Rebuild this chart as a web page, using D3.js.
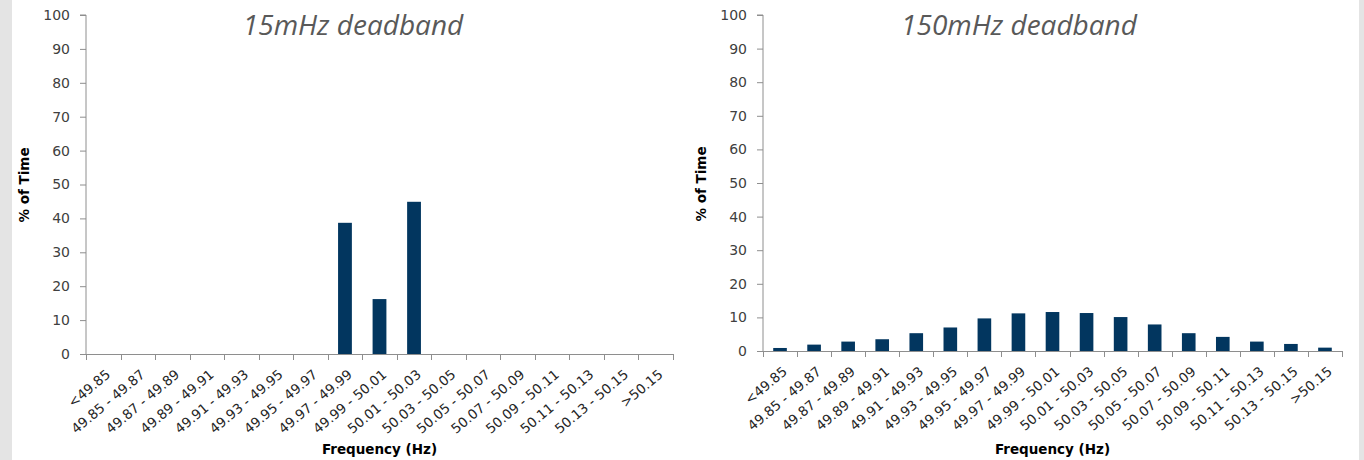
<!DOCTYPE html>
<html>
<head>
<meta charset="utf-8">
<script src="https://cdn.jsdelivr.net/npm/d3@7"></script>
<style>
  html, body { margin: 0; padding: 0; background: #ffffff; }
  svg { display: block; }
</style>
</head>
<body>
<svg id="chart" width="1364" height="460"></svg>
<script>
// Frequency bands (Hz)
const categories = [
  "<49.85", "49.85 - 49.87", "49.87 - 49.89", "49.89 - 49.91", "49.91 - 49.93",
  "49.93 - 49.95", "49.95 - 49.97", "49.97 - 49.99", "49.99 - 50.01", "50.01 - 50.03",
  "50.03 - 50.05", "50.05 - 50.07", "50.07 - 50.09", "50.09 - 50.11", "50.11 - 50.13",
  "50.13 - 50.15", ">50.15"
];

// % of time spent in each band
const deadband15 = [0, 0, 0, 0, 0, 0, 0, 38.7, 16.2, 44.9, 0, 0, 0, 0, 0, 0, 0];
const deadband150 = [0.9, 1.9, 2.8, 3.5, 5.3, 7.0, 9.7, 11.2, 11.6, 11.3, 10.1, 7.9, 5.3, 4.2, 2.8, 2.1, 1.0];

const yTicks = [0, 10, 20, 30, 40, 50, 60, 70, 80, 90, 100];
const titles = ["15mHz deadband", "150mHz deadband"];

const svg = d3.select("#chart");
const W = 1364, H = 460;

// grey frame strips at both sides
svg.append("rect").attr("x", 0).attr("y", 0).attr("width", W).attr("height", H).attr("fill", "#e4e4e4");
svg.append("rect").attr("x", 12).attr("y", 0).attr("width", 1347).attr("height", H).attr("fill", "#ffffff");

const BAR = "#02365f";
const AXIS = "#8e8e8e";
const FONT = "'DejaVu Sans', Verdana, sans-serif";

function drawPanel(p) {
  const g = svg.append("g");

  const x = d3.scaleBand().domain(categories).range([p.left, p.right]).paddingInner(0).paddingOuter(0);
  const y = d3.scaleLinear().domain([0, 100]).range([p.bottom, p.top]);

  // y axis
  const yAxis = d3.axisLeft(y).tickValues(yTicks).tickSize(6).tickPadding(10).tickFormat(d3.format("d"));
  const ya = g.append("g").attr("transform", `translate(${p.left},0)`).call(yAxis);
  ya.select(".domain").attr("stroke", AXIS).attr("d", `M-6,${p.top}H0V${p.bottom}`);
  ya.selectAll(".tick line").attr("stroke", AXIS);
  ya.selectAll(".tick text")
    .attr("fill", "#404040")
    .style("font-family", FONT)
    .style("font-size", "14px");

  // bars
  const bw = x.bandwidth() / 2.5;
  g.append("g").selectAll("rect")
    .data(p.values.map((v, i) => ({ c: categories[i], v })))
    .join("rect")
    .attr("x", d => x(d.c) + (x.bandwidth() - bw) / 2)
    .attr("y", d => y(d.v))
    .attr("width", bw)
    .attr("height", d => y(0) - y(d.v))
    .attr("fill", BAR);

  // x axis: ticks at band boundaries
  const xa = g.append("g");
  xa.append("line")
    .attr("x1", p.left).attr("x2", p.right)
    .attr("y1", p.bottom + 0.5).attr("y2", p.bottom + 0.5)
    .attr("stroke", AXIS);
  const bounds = categories.map(c => x(c)).concat([p.right]);
  xa.selectAll("line.tk").data(bounds).join("line")
    .attr("class", "tk")
    .attr("x1", d => Math.round(d) + 0.5).attr("x2", d => Math.round(d) + 0.5)
    .attr("y1", p.bottom).attr("y2", p.bottom + 6)
    .attr("stroke", AXIS);
  xa.selectAll("text").data(categories).join("text")
    .attr("transform", d => `translate(${x(d) + x.bandwidth() / 2 + 8},${p.bottom + 22}) rotate(-40)`)
    .attr("text-anchor", "end")
    .attr("fill", "#262626")
    .style("font-family", FONT)
    .style("font-size", "13.5px")
    .text(d => d);

  // axis titles
  g.append("text")
    .attr("transform", `translate(${p.yTitleX},${p.yTitleY}) rotate(-90)`)
    .attr("text-anchor", "middle")
    .attr("fill", "#000")
    .style("font-family", FONT)
    .style("font-size", "13.5px")
    .style("font-weight", "bold")
    .text("% of Time");

  g.append("text")
    .attr("x", (p.left + p.right) / 2)
    .attr("y", 454)
    .attr("text-anchor", "middle")
    .attr("fill", "#000")
    .style("font-family", FONT)
    .style("font-size", "13.5px")
    .style("font-weight", "bold")
    .text("Frequency (Hz)");

  // chart title
  g.append("text")
    .attr("x", p.titleX)
    .attr("y", 35)
    .attr("text-anchor", "middle")
    .attr("fill", "#595959")
    .style("font-family", "'Open Sans', sans-serif")
    .style("font-style", "italic")
    .style("font-size", "28px")
    .text(p.title);
}

drawPanel({ left: 86, right: 673, top: 15, bottom: 354, values: deadband15, title: titles[0],
            titleX: 353, yTitleX: 29, yTitleY: 185 });
drawPanel({ left: 763, right: 1342, top: 15, bottom: 351, values: deadband150, title: titles[1],
            titleX: 1019, yTitleX: 706, yTitleY: 184 });
</script>
</body>
</html>
